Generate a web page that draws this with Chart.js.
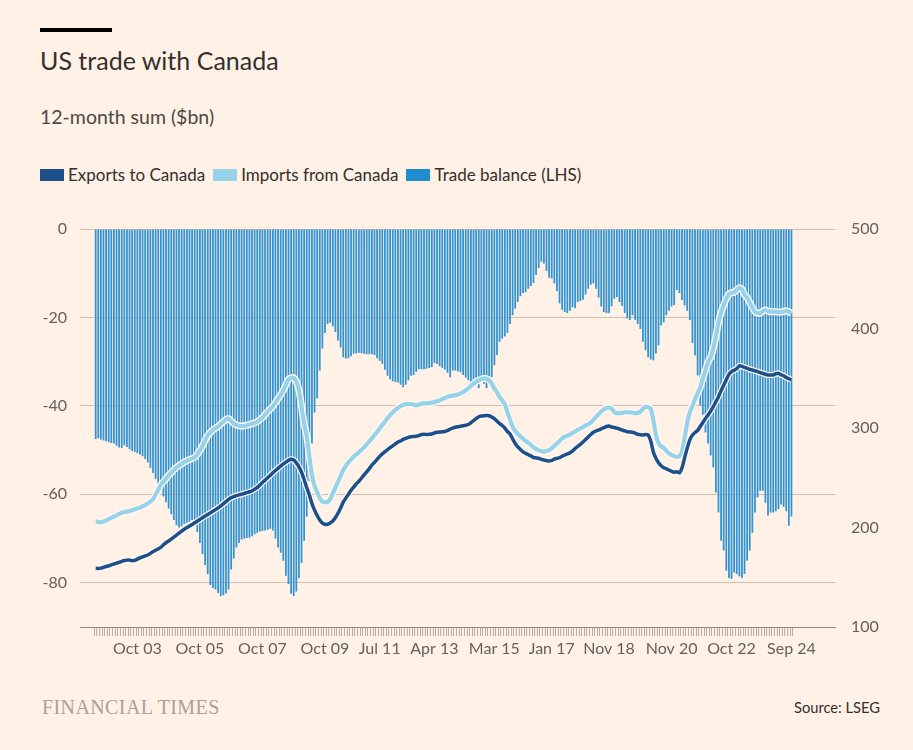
<!DOCTYPE html>
<html>
<head>
<meta charset="utf-8">
<script src="https://cdn.jsdelivr.net/npm/chart.js@4"></script>
<style>
  body { margin: 0; background: #fff1e5; font-family: Lato, sans-serif; color: #33302e; }
  #page { position: relative; width: 913px; height: 750px; overflow: hidden; background: #fff1e5; }
  .rule { position: absolute; left: 40px; top: 28px; width: 72px; height: 4px; background: #000; }
  .title { position: absolute; left: 40px; top: 48px; font-size: 25px; line-height: 25px; white-space: nowrap; }
  .subtitle { position: absolute; left: 40px; top: 107px; font-size: 19.5px; line-height: 19.5px; color: #4d4845; white-space: nowrap; }
  .legend { position: absolute; left: 40px; top: 166px; display: flex; font-size: 17px; line-height: 17px; white-space: nowrap; }
  .legend span { display: flex; align-items: center; margin-right: 8px; }
  .legend i { display: inline-block; width: 24px; height: 12px; margin-right: 4px; }
  #wrap { position: absolute; left: 0; top: 200px; width: 913px; height: 470px; }
  .ft { position: absolute; left: 42px; top: 697px; font-family: "Liberation Serif", "DejaVu Serif", serif; font-size: 20px; line-height: 20px; color: #aaa199; letter-spacing: 0.4px; white-space: nowrap; }
  .source { position: absolute; right: 33px; top: 700px; font-size: 14.7px; line-height: 15px; color: #33302e; white-space: nowrap; }
</style>
</head>
<body>
<div id="page">
  <div class="rule"></div>
  <div class="title">US trade with Canada</div>
  <div class="subtitle">12-month sum ($bn)</div>
  <div class="legend">
    <span><i style="background:#1d4f8a"></i>Exports to Canada</span>
    <span><i style="background:#96d3ea"></i>Imports from Canada</span>
    <span><i style="background:#1f8ed0"></i>Trade balance (LHS)</span>
  </div>
  <div id="wrap"><canvas id="chart" width="913" height="470"></canvas></div>
  <div class="ft">FINANCIAL TIMES</div>
  <div class="source">Source: LSEG</div>
</div>
<script>
// Monthly, Jun 2002 - Sep 2024
const monthNames = ['Jan', 'Feb', 'Mar', 'Apr', 'May', 'Jun', 'Jul', 'Aug', 'Sep', 'Oct', 'Nov', 'Dec'];
const months = [];
for (let y = 2002, m = 5; months.length < 268; m++) {
  if (m === 12) { m = 0; y++; }
  months.push(monthNames[m] + ' ' + String(y % 100).padStart(2, '0'));
}

const tickLabels = ['Oct 03', 'Oct 05', 'Oct 07', 'Oct 09', 'Jul 11', 'Apr 13', 'Mar 15', 'Jan 17', 'Nov 18', 'Nov 20', 'Oct 22', 'Sep 24'];
const leftTicks = [0, -20, -40, -60, -80];
const rightTicks = [500, 400, 300, 200, 100];

// Trade balance, $bn (left axis)
const balance = [
  -47.5, -47.3, -47.6, -47.8, -48.0, -48.2, -48.4, -48.5, -49.0, -49.4,
  -49.5, -48.9, -49.3, -49.8, -50.2, -50.4, -50.7, -51.0, -51.4, -52.0,
  -52.8, -54.0, -55.2, -56.5, -57.6, -59.0, -60.5, -61.8, -63.2, -64.5,
  -65.8, -67.0, -67.5, -67.2, -66.7, -66.4, -66.2, -65.8, -65.8, -68.5,
  -71.0, -73.5, -76.0, -78.0, -80.5, -81.2, -81.5, -82.3, -83.0, -82.8,
  -82.4, -81.5, -77.0, -74.5, -72.0, -71.0, -70.2, -70.0, -69.9, -69.8,
  -69.5, -69.0, -68.7, -68.4, -68.3, -68.2, -68.0, -67.8, -68.2, -70.0,
  -72.0, -73.2, -75.0, -78.4, -80.3, -82.5, -83.0, -82.0, -79.0, -75.5,
  -70.5, -65.0, -57.0, -48.5, -41.5, -38.3, -32.0, -27.0, -23.5, -21.5,
  -21.2, -22.0, -23.3, -25.2, -26.8, -29.0, -29.3, -29.2, -28.8, -28.2,
  -28.1, -28.0, -28.1, -28.2, -28.3, -28.3, -28.3, -28.5, -29.2, -29.8,
  -30.5, -31.8, -33.2, -34.0, -34.4, -34.6, -34.7, -35.2, -35.8, -35.2,
  -34.2, -33.2, -33.0, -32.3, -31.7, -31.7, -31.7, -31.6, -31.4, -31.2,
  -30.3, -30.5, -31.0, -31.4, -31.8, -32.5, -33.5, -32.0, -32.0, -32.2,
  -32.4, -33.0, -33.6, -34.2, -34.6, -34.3, -34.6, -36.0, -34.3, -35.0,
  -36.0, -33.8, -33.5, -30.8, -28.5, -25.5, -24.8, -24.3, -23.5, -21.5,
  -19.5, -18.0, -16.5, -15.2, -14.5, -14.3, -13.5, -12.9, -12.2, -10.4,
  -8.8, -7.4, -7.8, -9.5, -11.0, -11.2, -12.3, -14.0, -16.8, -18.3,
  -18.8, -19.0, -18.5, -17.7, -17.9, -16.5, -16.3, -16.0, -14.8, -13.5,
  -12.6, -12.3, -13.5, -15.5, -17.5, -18.8, -19.0, -19.0, -17.5, -15.8,
  -15.4, -16.5, -17.4, -19.0, -20.2, -20.6, -19.5, -20.5, -21.5, -22.6,
  -25.5, -27.4, -29.0, -29.5, -29.7, -28.1, -26.3, -21.8, -21.1, -19.5,
  -18.5, -17.5, -17.2, -13.8, -14.5, -16.1, -17.3, -18.5, -20.6, -25.8,
  -28.6, -33.1, -39.9, -42.0, -46.0, -48.5, -51.2, -53.9, -59.6, -64.1,
  -70.5, -72.7, -77.3, -78.9, -79.1, -77.7, -78.0, -78.5, -78.9, -78.0,
  -75.0, -72.7, -68.7, -64.1, -60.7, -59.2, -59.2, -61.9, -64.8, -64.1,
  -64.1, -63.8, -63.3, -62.3, -62.8, -63.8, -67.1, -65.0
];

// Exports to Canada, $bn (right axis)
const exportsCa = [
  159.0, 158.8, 159.2, 160.0, 160.8, 161.5, 162.5, 163.3, 164.2, 165.0,
  166.0, 166.8, 167.2, 167.4, 166.6, 167.0, 168.2, 169.5, 170.5, 171.5,
  172.4, 174.0, 175.7, 177.2, 178.5, 180.0, 182.6, 184.7, 186.4, 188.4,
  190.3, 192.3, 194.3, 196.3, 198.3, 199.9, 201.5, 203.0, 204.7, 206.3,
  208.0, 209.8, 211.5, 213.0, 214.7, 216.3, 218.0, 219.8, 221.8, 223.8,
  226.0, 228.2, 230.0, 231.0, 232.0, 232.8, 233.4, 234.2, 235.0, 235.9,
  236.8, 238.5, 240.2, 242.6, 245.2, 247.5, 250.0, 252.5, 255.0, 257.3,
  259.5, 261.8, 264.0, 265.7, 267.5, 268.5, 267.8, 265.0, 261.0, 255.5,
  248.0, 240.0, 232.7, 224.0, 217.5, 212.0, 207.5, 204.5, 203.2, 203.2,
  204.5, 206.5, 210.0, 214.3, 219.5, 225.5, 229.5, 233.5, 237.3, 240.5,
  243.8, 246.5, 249.5, 252.8, 256.0, 259.0, 262.8, 265.5, 268.5, 271.5,
  274.0, 276.2, 278.2, 280.3, 282.0, 284.0, 286.0, 287.0, 288.5, 289.5,
  290.5, 291.2, 291.5, 291.8, 292.3, 293.5, 293.7, 293.5, 293.7, 294.0,
  295.0, 295.7, 296.0, 296.2, 296.5, 297.5, 298.8, 299.8, 300.7, 301.3,
  301.7, 302.2, 302.8, 303.5, 305.5, 307.5, 309.5, 311.3, 312.0, 312.4,
  312.5, 312.3, 311.0, 309.5, 307.0, 304.5, 302.5, 300.0, 296.5, 294.0,
  289.0, 284.5, 281.0, 278.5, 276.0, 274.5, 273.2, 272.0, 270.3, 270.0,
  269.6, 268.5, 267.8, 267.3, 266.8, 267.5, 268.8, 269.5, 270.2, 271.5,
  272.9, 274.0, 275.0, 277.0, 279.5, 281.5, 283.5, 286.0, 288.5, 291.0,
  293.5, 295.7, 297.0, 298.0, 299.2, 300.3, 301.5, 302.0, 301.0, 300.5,
  299.7, 299.0, 298.0, 297.2, 296.3, 296.0, 295.7, 294.8, 293.7, 293.3,
  293.0, 293.5, 293.0, 287.0, 276.0, 269.5, 265.0, 262.0, 260.0, 259.0,
  257.8, 256.5, 255.5, 256.0, 255.0, 260.0, 270.0, 280.0, 288.0, 293.0,
  295.5, 297.5, 301.5, 305.5, 309.5, 313.0, 317.0, 321.4, 326.5, 331.5,
  337.5, 343.0, 348.5, 353.9, 356.6, 358.0, 359.5, 362.5, 362.0, 361.0,
  360.0, 359.0, 358.3, 357.5, 356.6, 355.7, 354.9, 354.0, 353.3, 353.3,
  353.3, 354.5, 354.9, 353.5, 352.5, 350.8, 349.5, 348.5
];

// Imports from Canada, $bn (right axis)
const importsCa = [
  206.0, 205.6, 205.2, 206.0, 207.2, 208.5, 209.8, 210.8, 212.2, 213.6,
  214.8, 215.6, 216.0, 216.4, 217.5, 218.4, 219.3, 220.0, 221.3, 222.6,
  224.3, 226.0, 228.5, 233.0, 238.0, 243.0, 246.0, 249.0, 252.5, 255.0,
  258.0, 260.3, 262.2, 264.0, 265.8, 267.0, 268.3, 269.2, 270.5, 273.5,
  277.5, 282.0, 287.5, 292.5, 295.5, 298.0, 299.8, 301.5, 304.0, 306.3,
  308.5, 309.6, 307.0, 304.5, 303.0, 302.3, 302.0, 302.2, 302.8, 303.5,
  304.3, 305.3, 306.3, 308.5, 310.4, 313.5, 316.5, 319.0, 321.8, 325.5,
  329.5, 333.5, 338.0, 343.5, 349.0, 350.3, 350.6, 347.0, 338.0, 322.0,
  304.0, 292.0, 271.0, 253.0, 242.0, 235.5, 229.5, 226.0, 225.3, 225.7,
  228.5, 234.4, 240.0, 246.0, 252.0, 257.5, 262.0, 265.5, 268.5, 271.2,
  273.5, 275.6, 278.0, 280.5, 283.5, 286.5, 289.6, 293.0, 296.0, 299.5,
  303.0, 306.3, 309.8, 313.3, 315.8, 318.3, 320.2, 321.8, 323.3, 324.0,
  324.1, 324.1, 323.5, 322.7, 323.5, 324.5, 324.8, 324.8, 325.0, 325.5,
  326.0, 327.0, 327.8, 329.0, 330.3, 331.5, 332.0, 332.5, 333.0, 333.6,
  334.8, 336.0, 338.0, 339.7, 342.3, 344.5, 346.5, 348.0, 349.0, 349.8,
  349.5, 348.0, 344.5, 339.5, 336.0, 331.0, 328.0, 324.0, 316.0, 308.5,
  301.5, 297.0, 294.0, 291.5, 289.0, 287.0, 285.0, 283.0, 280.5, 279.0,
  277.5, 276.8, 276.2, 276.8, 277.8, 279.5, 282.0, 284.5, 287.0, 289.5,
  291.3, 292.3, 293.3, 295.0, 296.5, 298.2, 299.5, 301.0, 302.5, 303.5,
  305.5, 308.0, 311.0, 313.8, 316.5, 318.8, 320.2, 320.4, 319.5, 316.0,
  314.8, 314.8, 315.2, 315.8, 315.8, 315.8, 315.3, 314.8, 315.2, 316.4,
  319.0, 321.4, 321.0, 319.5, 308.0, 293.0, 285.0, 281.5, 280.0, 277.0,
  274.6, 273.0, 271.9, 271.0, 271.5, 276.2, 290.0, 305.0, 316.0, 322.0,
  329.0, 335.0, 341.0, 350.0, 358.0, 366.6, 371.0, 380.0, 392.0, 406.0,
  416.0, 423.6, 430.0, 434.7, 436.0, 436.3, 439.0, 441.0, 439.5, 434.0,
  431.0, 426.0, 421.0, 417.0, 415.5, 415.3, 417.5, 418.6, 417.5, 416.9,
  416.9, 416.9, 416.5, 416.5, 417.3, 417.6, 416.8, 415.3
];

const toXY = arr => arr.map((v, i) => ({ x: i, y: v }));
const tickFont = { family: 'Lato', size: 16 };
const halo = '#fff8f1';

new Chart(document.getElementById('chart'), {
  type: 'bar',
  data: {
    datasets: [
      { type: 'line', label: 'Exports to Canada', data: toXY(exportsCa), yAxisID: 'y2',
        borderColor: '#1d4f8a', borderWidth: 3.5, pointRadius: 0, tension: 0.2, order: 1 },
      { type: 'line', label: 'exports halo', data: toXY(exportsCa), yAxisID: 'y2',
        borderColor: halo, borderWidth: 6, pointRadius: 0, tension: 0.2, order: 2 },
      { type: 'line', label: 'Imports from Canada', data: toXY(importsCa), yAxisID: 'y2',
        borderColor: '#96d3ea', borderWidth: 4.2, pointRadius: 0, tension: 0.2, order: 3 },
      { type: 'line', label: 'imports halo', data: toXY(importsCa), yAxisID: 'y2',
        borderColor: halo, borderWidth: 7, pointRadius: 0, tension: 0.2, order: 4 },
      { type: 'bar', label: 'Trade balance (LHS)', data: toXY(balance), yAxisID: 'y',
        backgroundColor: '#3193d2', barPercentage: 0.68, categoryPercentage: 1, order: 5 },
    ],
  },
  options: {
    responsive: false,
    animation: false,
    layout: { padding: { top: 29, left: 0, right: 0, bottom: 0 } },
    plugins: { legend: { display: false }, tooltip: { enabled: false } },
    scales: {
      x: {
        type: 'linear', min: -5.47, max: 283.17,
        afterBuildTicks: s => { s.ticks = months.map((m, i) => ({ value: i })); },
        afterFit: s => { s.height = 43; },
        grid: { drawOnChartArea: false, tickLength: 9, color: '#b9aea5' },
        border: { color: '#8f8681' },
        ticks: {
          autoSkip: false, maxRotation: 0, padding: 3, color: '#66605c', font: tickFont,
          callback: v => tickLabels.includes(months[v]) ? months[v] : '',
        },
      },
      y: {
        position: 'left', min: -90, max: 0, z: 1,
        afterBuildTicks: s => { s.ticks = leftTicks.map(v => ({ value: v })); },
        afterFit: s => { s.width = 80; },
        grid: { color: 'rgba(110,92,80,0.33)', drawTicks: false },
        border: { display: false },
        ticks: { padding: 13, color: '#66605c', font: tickFont },
      },
      y2: {
        position: 'right', min: 100, max: 500,
        afterBuildTicks: s => { s.ticks = rightTicks.map(v => ({ value: v })); },
        afterFit: s => { s.width = 78; },
        grid: { display: false, drawTicks: false },
        border: { display: false },
        ticks: { padding: 16, color: '#66605c', font: tickFont },
      },
    },
  },
});
</script>
</body>
</html>
